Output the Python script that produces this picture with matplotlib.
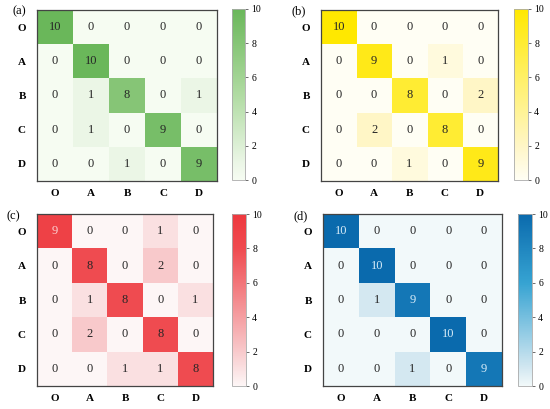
import numpy as np
import matplotlib
matplotlib.use("Agg")
import matplotlib.pyplot as plt
from matplotlib.colors import LinearSegmentedColormap

plt.rcParams['font.family'] = ['Liberation Serif', 'DejaVu Serif']

labels = ['O', 'A', 'B', 'C', 'D']
panel_names = ['(a)', '(b)', '(c)', '(d)']

cm_a = [[10, 0, 0, 0, 0],
        [0, 10, 0, 0, 0],
        [0, 1, 8, 0, 1],
        [0, 1, 0, 9, 0],
        [0, 0, 1, 0, 9]]
cm_b = [[10, 0, 0, 0, 0],
        [0, 9, 0, 1, 0],
        [0, 0, 8, 0, 2],
        [0, 2, 0, 8, 0],
        [0, 0, 1, 0, 9]]
cm_c = [[9, 0, 0, 1, 0],
        [0, 8, 0, 2, 0],
        [0, 1, 8, 0, 1],
        [0, 2, 0, 8, 0],
        [0, 0, 1, 1, 8]]
cm_d = [[10, 0, 0, 0, 0],
        [0, 10, 0, 0, 0],
        [0, 1, 9, 0, 0],
        [0, 0, 0, 10, 0],
        [0, 0, 1, 0, 9]]
matrices = [cm_a, cm_b, cm_c, cm_d]

cmaps = [
    LinearSegmentedColormap.from_list('g', [(0, '#f6fcf2'), (0.1, '#ebf6e6'), (0.5, '#b0dba2'), (1, '#6ab75a')]),
    LinearSegmentedColormap.from_list('y', [(0, '#fffef4'), (0.2, '#fff6c6'), (0.6, '#fff066'), (1, '#ffe800')]),
    LinearSegmentedColormap.from_list('r', [(0, '#fdf6f6'), (0.1, '#fae0e1'), (0.2, '#f8c9cb'), (0.8, '#ef4b50'), (1, '#ee383e')]),
    LinearSegmentedColormap.from_list('b', [(0, '#f2f9fa'), (0.1, '#d4e8f1'), (0.6, '#36a3d2'), (1, '#0a6aad')]),
]
# value at or above which the cell number is drawn light
light_thresh = [99, 99, 9, 9]
light_colors = ['white', 'white', '#fbd2d2', '#d8ecf8']

heat_pos = [
    [37, 10, 217, 181],
    [321, 10, 498, 181],
    [37, 214, 213, 386],
    [323, 214, 502, 386],
]
cbar_pos = [
    [232, 9, 245, 180],
    [514, 9, 528, 180],
    [232, 214, 246, 386],
    [518, 214, 532, 386],
]
label_pos = [(12, 11), (292, 11), (6, 216), (294, 216)]

W, H = 550, 409
fig = plt.figure(figsize=(W / 100, H / 100), dpi=100)

def frac(box):
    l, t, r, b = box
    return [l / W, 1 - b / H, (r - l) / W, (b - t) / H]

for i in range(4):
    data = np.array(matrices[i])
    ax = fig.add_axes(frac(heat_pos[i]))
    im = ax.imshow(data, cmap=cmaps[i], vmin=0, vmax=10, aspect='auto')
    for r in range(data.shape[0]):
        for c in range(data.shape[1]):
            v = data[r, c]
            col = light_colors[i] if v >= light_thresh[i] else '#262626'
            ax.text(c, r, str(v), ha='center', va='center', fontsize=9, color=col)
    ax.set_xticks(range(len(labels)))
    ax.set_yticks(range(len(labels)))
    ax.set_xticklabels(labels, fontweight='bold', fontsize=8)
    ax.set_yticklabels(labels, fontweight='bold', fontsize=8)
    ax.tick_params(axis='x', length=0, pad=6)
    ax.tick_params(axis='y', length=0, pad=8)
    for s in ax.spines.values():
        s.set_color('#444444')
        s.set_linewidth(0.9)
    cax = fig.add_axes(frac(cbar_pos[i]))
    cb = fig.colorbar(im, cax=cax, ticks=[0, 2, 4, 6, 8, 10])
    cb.outline.set_edgecolor('#aaaaaa')
    cb.outline.set_linewidth(0.6)
    cax.tick_params(labelsize=7, length=2.5, width=0.6, color='#555555', pad=2)
    lx, ly = label_pos[i]
    fig.text(lx / W, 1 - ly / H, panel_names[i], ha='left', va='center', fontsize=9)

fig.savefig('out.png', dpi=100)
